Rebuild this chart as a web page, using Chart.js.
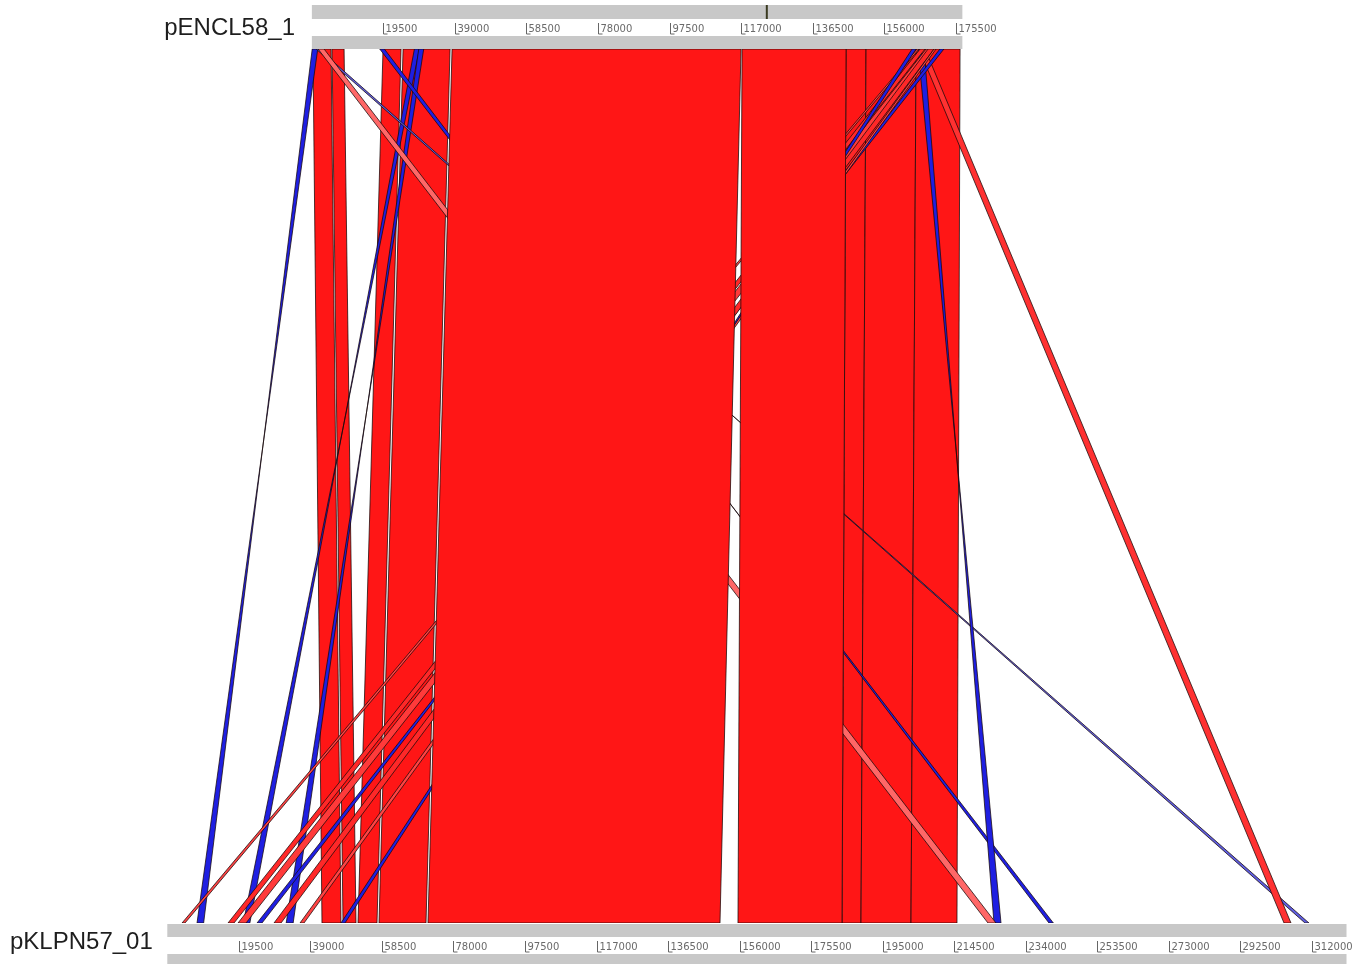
<!DOCTYPE html>
<html>
<head>
<meta charset="utf-8">
<script src="https://cdn.jsdelivr.net/npm/chart.js@4.4.1/dist/chart.umd.min.js"></script>
<style>
  html, body { margin: 0; padding: 0; background: #fff; }
  #wrap { width: 1361px; height: 964px; }
</style>
</head>
<body>
<div id="wrap"><canvas id="act" width="1361" height="964"></canvas></div>
<script>
// two plasmids, lengths in bp
const topName = 'pENCL58_1'
const botName = 'pKLPN57_01'
const topLength = 177300
const botLength = 321400
const topCursor = 124000

const topTicks = [19500, 39000, 58500, 78000, 97500, 117000, 136500, 156000, 175500]
const botTicks = [19500, 39000, 58500, 78000, 97500, 117000, 136500, 156000, 175500,
                  195000, 214500, 234000, 253500, 273000, 292500, 312000]

// blast hits: top start/end, bottom start/end, strand, % identity
// (drawn in this order, last one on top)
const topStart = [300, 5500, 19400, 24860, 145600, 151050, 164680,
                  100, 27950, 29130, 18500, 1150, 165220, 1690, 165490,
                  164950, 165770, 167400, 171180, 167950, 169580, 163590,
                  38210, 117250]
const topEnd   = [5230, 8780, 24310, 37670, 151050, 164680, 176670,
                  1600, 29310, 30490, 19770, 1960, 166860, 3330, 167130,
                  165490, 167130, 169310, 172270, 169580, 170130, 164680,
                  116980, 145600]
const botStart = [42160, 47890, 51980, 57700, 183890, 189070, 202700,
                  8100, 20700, 32400, 240300, 310080, 225320, 223680, 304370,
                  4010, 16540, 19270, 24450, 29080, 36170, 47340,
                  71050, 155540]
const botEnd   = [47340, 51430, 57150, 70510, 189070, 202700, 215230,
                  9900, 22500, 34300, 241500, 311170, 227230, 225860, 306270,
                  4820, 18180, 21450, 25810, 30990, 37260, 48430,
                  150640, 183890]
const strand   = ['+', '+', '+', '+', '+', '+', '+',
                  '-', '-', '-', '-', '-', '-', '+', '+',
                  '+', '+', '+', '-', '+', '+', '-',
                  '+', '+']
const ident    = [100, 100, 100, 100, 100, 100, 100,
                  99, 99, 99, 99, 92, 99, 91, 97,
                  95, 98, 96, 99, 98, 95, 99,
                  100, 100]

// view of the bottom sequence (bp) and shift of the top one
const viewStart = -45600
const viewEnd = 325350
const topShift = 39400

function fillFor(s, id) {
    const k = Math.round((100 - id) * 9)
    if (s === '+') return 'rgb(255,' + (22 + k) + ',' + (22 + k) + ')'
    return 'rgb(' + (22 + k) + ',' + (22 + k) + ',225)'
}

const datasets = topStart.map((ts, i) => {
    const te = topEnd[i], bs = botStart[i], be = botEnd[i]
    let pts
    if (strand[i] === '+') {
        pts = [[ts + topShift, 1], [te + topShift, 1], [be, 0], [bs, 0], [ts + topShift, 1]]
    } else {
        pts = [[ts + topShift, 1], [te + topShift, 1], [bs, 0], [be, 0], [ts + topShift, 1]]
    }
    return {
        data: pts.map(p => ({x: p[0], y: p[1]})),
        showLine: true,
        fill: 'shape',
        backgroundColor: fillFor(strand[i], ident[i]),
        borderColor: 'rgba(25,10,10,0.85)',
        borderWidth: 0.9,
        pointRadius: 0,
        tension: 0,
        order: topStart.length - i
    }
})

function drawTrack(ctx, scale, length, y0, y1, y2, y3, ticks) {
    const left = scale.getPixelForValue(0)
    const right = scale.getPixelForValue(length)
    ctx.fillStyle = '#c8c8c8'
    ctx.fillRect(left, y0, right - left, y1 - y0)
    ctx.fillRect(left, y2, right - left, y3 - y2)
    ctx.fillStyle = '#fff'
    ctx.fillRect(left, y1, right - left, y2 - y1)
    ctx.strokeStyle = '#666'
    ctx.lineWidth = 1
    ctx.fillStyle = '#6a6a6a'
    ctx.font = '10px "DejaVu Sans"'
    ctx.textAlign = 'left'
    ctx.textBaseline = 'alphabetic'
    ticks.forEach(t => {
        const x = Math.round(scale.getPixelForValue(t)) + 0.5
        ctx.beginPath()
        ctx.moveTo(x, y1 + 4)
        ctx.lineTo(x, y2 - 2)
        ctx.lineTo(x + 4, y2 - 2)
        ctx.stroke()
        ctx.fillText(String(t), x + 2, y2 - 4)
    })
}

const tracks = {
    id: 'tracks',
    afterDatasetsDraw(chart) {
        const ctx = chart.ctx
        ctx.save()
        drawTrack(ctx, chart.scales.xTop, topLength, 5, 19, 36, 49, topTicks)
        drawTrack(ctx, chart.scales.x, botLength, 924, 937, 954, 964, botTicks)
        // cursor mark on the top sequence
        const cx = chart.scales.xTop.getPixelForValue(topCursor)
        ctx.strokeStyle = '#3a3a20'
        ctx.lineWidth = 2
        ctx.beginPath()
        ctx.moveTo(cx, 5)
        ctx.lineTo(cx, 19)
        ctx.stroke()
        // sequence names
        ctx.fillStyle = '#1e1e1e'
        ctx.font = '24px "Liberation Sans", Arial, sans-serif'
        ctx.textAlign = 'right'
        ctx.fillText(topName, 295, 35)
        ctx.textAlign = 'left'
        ctx.fillText(botName, 10, 949)
        ctx.restore()
    }
}

const chart = new Chart(document.getElementById('act'), {
    type: 'scatter',
    data: { datasets: datasets },
    options: {
        responsive: false,
        animation: false,
        layout: { padding: { top: 49, bottom: 41, left: 0, right: 0 } },
        plugins: { legend: { display: false }, tooltip: { enabled: false } },
        scales: {
            x: { type: 'linear', min: viewStart, max: viewEnd, display: false },
            xTop: { type: 'linear', axis: 'x', min: viewStart - topShift, max: viewEnd - topShift, display: false },
            y: { type: 'linear', min: 0, max: 1, display: false }
        }
    },
    plugins: [tracks]
})
</script>
</body>
</html>
